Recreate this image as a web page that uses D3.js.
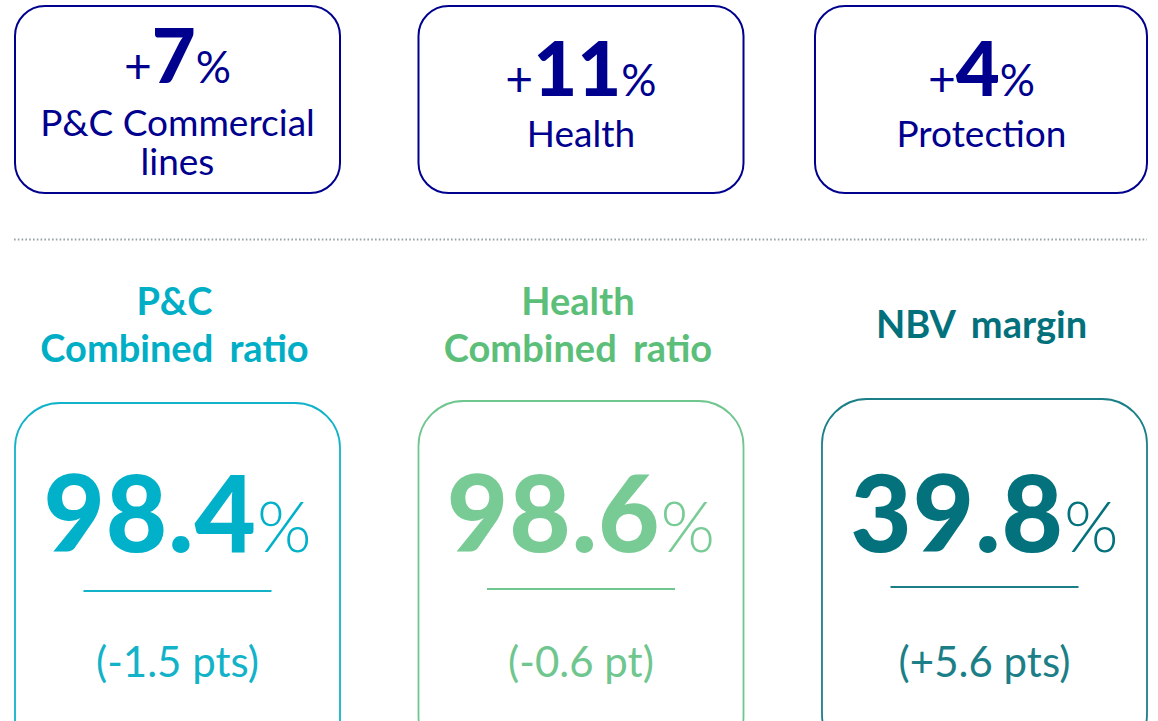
<!DOCTYPE html>
<html>
<head>
<meta charset="utf-8">
<script src="https://cdn.jsdelivr.net/npm/d3@7"></script>
<style>
  html, body { margin: 0; padding: 0; background: #fff; }
  svg { display: block; font-family: "Lato", "Noto Sans", sans-serif; }
</style>
</head>
<body>
<div class="kpi"></div>
<script>
// growth row
const growthPct = [7, 11, 4];
const growthLabels = [["P&C Commercial", "lines"], ["Health"], ["Protection"]];

// ratio row
const ratioTitles = [["P&C", "Combined ratio"], ["Health", "Combined ratio"], ["NBV margin"]];
const ratioValues = [98.4, 98.6, 39.8];
const ratioChanges = ["(-1.5 pts)", "(-0.6 pt)", "(+5.6 pts)"];

const navy = "#00008f";
const ratioColors = ["#00aec6", "#5bbf7a", "#02717c"];
const numberColors = ["#00b1c9", "#79cb96", "#03727d"];
const boxColors = ["#12b3c9", "#6fc68e", "#1c7f88"];

const width = 1158, height = 721;

const svg = d3.select(document.querySelector(".kpi"))
    .append("svg")
    .attr("width", width)
    .attr("height", height);

const x = d3.scaleBand()
    .domain(d3.range(3))
    .range([15, 1147])
    .paddingInner(0.1945);

const fmtGrowth = d3.format("+d");
const fmtRatio = d3.format(".1f");

// top boxes
const topBoxes = svg.append("g").attr("class", "growth")
    .selectAll("g")
    .data(growthPct.map((v, i) => ({ value: v, label: growthLabels[i], i })))
    .join("g")
    .attr("transform", d => `translate(${x(d.i)}, 0)`);

// last top box is drawn a little wider on the left
topBoxes.append("rect")
    .attr("x", d => d.i === 2 ? -7 : 0)
    .attr("y", 6)
    .attr("width", d => d.i === 2 ? x.bandwidth() + 7 : x.bandwidth())
    .attr("height", 187)
    .attr("rx", 30)
    .attr("fill", "none")
    .attr("stroke", navy)
    .attr("stroke-width", 2);

const growthText = topBoxes.append("text")
    .attr("x", d => x.bandwidth() / 2 - (d.i === 2 ? 3 : 0))
    .attr("y", d => d.label.length > 1 ? 83 : 96)
    .attr("text-anchor", "middle")
    .attr("fill", navy);
growthText.append("tspan")
    .attr("font-size", 48)
    .text(d => fmtGrowth(d.value).slice(0, 1));
growthText.append("tspan")
    .attr("font-size", 76)
    .attr("font-weight", 900)
    .text(d => fmtGrowth(d.value).slice(1));
growthText.append("tspan")
    .attr("font-size", 44)
    .text("%");

// label lines as tspans of one text
topBoxes.append("text")
    .attr("text-anchor", "middle")
    .attr("font-size", 37)
    .attr("fill", navy)
    .each(function(d) {
        const t = d3.select(this);
        const cx = x.bandwidth() / 2 - (d.i === 2 ? 3 : 0);
        d.label.forEach((line, k) => {
            t.append("tspan")
                .attr("x", cx)
                .attr("y", (d.label.length > 1 ? 136 : 147) + k * 39)
                .text(line);
        });
    });

// dotted separator
svg.append("line")
    .attr("x1", 14).attr("x2", 1147)
    .attr("y1", 239.5).attr("y2", 239.5)
    .attr("stroke", "#98a2a6")
    .attr("stroke-width", 2)
    .attr("stroke-dasharray", "1.6,2.2");

// bottom boxes
const bottomBoxes = svg.append("g").attr("class", "ratios")
    .selectAll("g")
    .data(ratioValues.map((v, i) => ({ value: v, title: ratioTitles[i], change: ratioChanges[i], i })))
    .join("g")
    .attr("transform", d => `translate(${x(d.i)}, 0)`);

bottomBoxes.append("text")
    .attr("text-anchor", "middle")
    .attr("font-size", 38)
    .attr("font-weight", 700)
    .attr("word-spacing", 7)
    .attr("fill", d => ratioColors[d.i])
    .each(function(d) {
        const t = d3.select(this);
        d.title.forEach((line, k) => {
            t.append("tspan")
                .attr("x", x.bandwidth() / 2 - 3)
                .attr("y", (d.title.length > 1 ? 315 : 338) + k * 47)
                .text(line);
        });
    });

bottomBoxes.append("rect")
    .attr("x", 0)
    .attr("y", d => 403 - d.i * 2)
    .attr("width", x.bandwidth())
    .attr("height", 360)
    .attr("rx", 45)
    .attr("fill", "none")
    .attr("stroke", d => boxColors[d.i])
    .attr("stroke-width", 1.8);

const bigText = bottomBoxes.append("text")
    .attr("x", x.bandwidth() / 2)
    .attr("y", 552)
    .attr("text-anchor", "middle")
    .attr("fill", d => numberColors[d.i]);
bigText.append("tspan")
    .attr("font-size", 106)
    .attr("font-weight", 900)
    .attr("letter-spacing", 1)
    .text(d => fmtRatio(d.value));
bigText.append("tspan")
    .attr("font-size", 70)
    .attr("font-weight", 300)
    .text("%");

bottomBoxes.append("line")
    .attr("x1", x.bandwidth() / 2 - 94)
    .attr("x2", x.bandwidth() / 2 + 94)
    .attr("y1", d => 591 - d.i * 2)
    .attr("y2", d => 591 - d.i * 2)
    .attr("stroke", d => boxColors[d.i])
    .attr("stroke-width", 2);

bottomBoxes.append("text")
    .attr("x", x.bandwidth() / 2)
    .attr("y", 677)
    .attr("text-anchor", "middle")
    .attr("font-size", 42)
    .attr("fill", d => boxColors[d.i])
    .text(d => d.change);
</script>
</body>
</html>
